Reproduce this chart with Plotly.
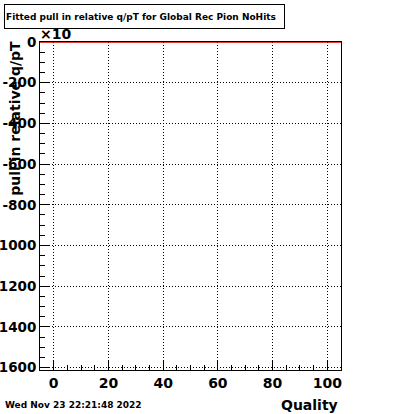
import plotly.graph_objects as go

# Data (histogram with zero content across the Quality range)
quality = [-5, 105]
pull_values = [0, 0]

y_tick_vals = [0, -200, -400, -600, -800, -1000, -1200, -1400, -1600]
# labels as visible in the reference (leading minus of 4-digit labels falls off the canvas)
y_tick_text = ["0", "-200", "-400", "-600", "-800",
               "1000", "1200", "1400", "1600"]
x_tick_vals = [0, 20, 40, 60, 80, 100]

W, H = 400, 414
L, R, T, B = 40, 341, 41.7, 369.7
PW, PH = R - L, B - T

def px(x):
    return (x - L) / PW

def py(y):
    return (B - y) / PH

FONT = "DejaVu Sans"

fig = go.Figure()
fig.add_trace(go.Scatter(x=quality, y=pull_values, mode="lines",
                         line=dict(color="#d40000", width=1.5),
                         cliponaxis=False, showlegend=False))

fig.update_layout(
    width=W, height=H,
    margin=dict(l=L, r=W - R, t=T, b=H - B, pad=0, autoexpand=False),
    paper_bgcolor="white", plot_bgcolor="white",
    font=dict(family=FONT, color="black"),
    showlegend=False,
)

fig.update_xaxes(
    range=[-5, 105], tickvals=x_tick_vals, automargin=False,
    ticks="inside", ticklen=9, tickwidth=1, tickcolor="black",
    showline=True, linecolor="black", linewidth=1, mirror=True,
    showgrid=True, gridcolor="black", gridwidth=1, griddash="1px,2px",
    zeroline=False,
    tickfont=dict(family=FONT, size=14, color="black", weight="bold"),
    minor=dict(dtick=5, ticks="inside", ticklen=5, tickcolor="black", showgrid=False),
)
fig.update_yaxes(
    range=[-1612, 0], tickvals=y_tick_vals, ticktext=y_tick_text, automargin=False,
    ticks="inside", ticklen=9, tickwidth=1, tickcolor="black",
    showline=True, linecolor="black", linewidth=1, mirror=True,
    showgrid=True, gridcolor="black", gridwidth=1, griddash="1px,2px",
    zeroline=False,
    tickfont=dict(family=FONT, size=13.5, color="black", weight="bold"),
    minor=dict(dtick=50, ticks="inside", ticklen=5, tickcolor="black", showgrid=False),
)

annotations = [
    # title box
    dict(text="<b>Fitted pull in relative q/pT for Global Rec Pion NoHits</b>",
         xref="paper", yref="paper", x=px(3.5), y=py(3.5),
         xanchor="left", yanchor="top", showarrow=False,
         width=277, height=21, align="left", valign="middle",
         bordercolor="black", borderwidth=1, borderpad=1,
         font=dict(family=FONT, size=9, color="black")),
    # y axis title
    dict(text="<b>pull in relative q/pT</b>", textangle=-90,
         xref="paper", yref="paper", x=px(15), y=py(39),
         xanchor="center", yanchor="top", showarrow=False,
         font=dict(family=FONT, size=14, color="black")),
    # x axis title
    dict(text="<b>Quality</b>",
         xref="paper", yref="paper", x=px(340), y=py(405),
         xanchor="right", yanchor="middle", showarrow=False,
         font=dict(family=FONT, size=14, color="black")),
    # date
    dict(text="<b>Wed Nov 23 22:21:48 2022</b>",
         xref="paper", yref="paper", x=px(3), y=py(405),
         xanchor="left", yanchor="middle", showarrow=False,
         font=dict(family=FONT, size=9, color="black")),
    # exponent label
    dict(text="<b>\u00d710</b>",
         xref="paper", yref="paper", x=px(38), y=py(34),
         xanchor="left", yanchor="middle", showarrow=False,
         font=dict(family=FONT, size=14, color="black")),
]
fig.update_layout(annotations=annotations)

fig.write_html("out.html", config={"displayModeBar": False},
               post_script="document.body.style.margin='0';document.body.style.overflow='hidden';")
